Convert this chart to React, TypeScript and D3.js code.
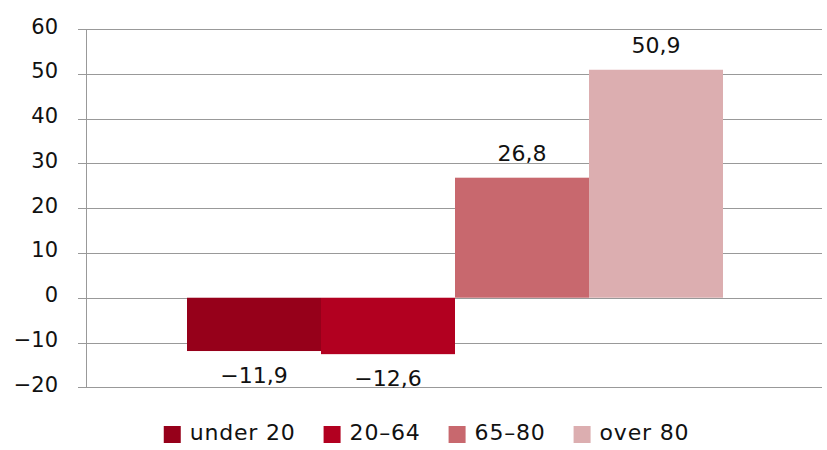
import React, { useRef, useEffect } from 'react';
import * as d3 from 'd3';

// age groups and change (%)
const groups = ['under 20', '20–64', '65–80', 'over 80'];
const values = [-11.9, -12.6, 26.8, 50.9];
const colors = ['#96001A', '#B20020', '#C8686E', '#DCAEB0'];
const yTicks = [-20, -10, 0, 10, 20, 30, 40, 50, 60];

const W = 827;
const H = 450;
const FONT = "'DejaVu Sans', sans-serif";

const fmt = (v: number) => d3.format('.1f')(v).replace('.', ',').replace('-', '−');

export default function App() {
  const svgRef = useRef<SVGSVGElement>(null);

  useEffect(() => {
    const svg = d3.select(svgRef.current);
    svg.selectAll('*').remove();

    const left = 86, right = 822, top = 29, bottom = 387.3;

    const y = d3.scaleLinear().domain([-20, 60]).range([bottom, top]);
    // one category, bars side by side, centered in the plot
    const x = d3.scaleBand<string>()
      .domain(groups)
      .range([left + 101, right - 99])
      .padding(0);

    // gridlines
    svg.append('g')
      .selectAll('line')
      .data(yTicks)
      .join('line')
      .attr('x1', left - 8)
      .attr('x2', right)
      .attr('y1', d => Math.round(y(d)) + 0.5)
      .attr('y2', d => Math.round(y(d)) + 0.5)
      .attr('stroke', '#999')
      .attr('stroke-width', 1);

    // tick labels
    svg.append('g')
      .selectAll('text')
      .data(yTicks)
      .join('text')
      .attr('x', 58)
      .attr('y', d => y(d) + 4.5)
      .attr('text-anchor', 'end')
      .attr('font-family', FONT)
      .attr('font-size', 21)
      .attr('fill', '#111')
      .text(d => String(d).replace('-', '−'));

    // bars
    svg.append('g')
      .selectAll('rect')
      .data(values)
      .join('rect')
      .attr('x', (d, i) => x(groups[i])!)
      .attr('width', x.bandwidth())
      .attr('y', d => y(Math.max(0, d)))
      .attr('height', d => Math.abs(y(d) - y(0)))
      .attr('fill', (d, i) => colors[i]);

    // y axis line
    svg.append('line')
      .attr('x1', left + 0.5)
      .attr('x2', left + 0.5)
      .attr('y1', top)
      .attr('y2', bottom)
      .attr('stroke', '#999');

    // value labels
    svg.append('g')
      .selectAll('text')
      .data(values)
      .join('text')
      .attr('x', (d, i) => x(groups[i])! + x.bandwidth() / 2)
      .attr('y', d => d >= 0 ? y(d) - 17 : y(d) + 32)
      .attr('text-anchor', 'middle')
      .attr('font-family', FONT)
      .attr('font-size', 22)
      .attr('fill', '#111')
      .text(d => fmt(d));

    // legend
    const legend = svg.append('g');
    const items = legend.selectAll('g')
      .data(groups)
      .join('g');
    items.append('rect')
      .attr('width', 17)
      .attr('height', 17)
      .attr('y', 426)
      .attr('fill', (d, i) => colors[i]);
    const texts = items.append('text')
      .attr('x', 26)
      .attr('y', 440)
      .attr('font-family', FONT)
      .attr('font-size', 22)
      .attr('letter-spacing', 0.8)
      .attr('fill', '#111')
      .text(d => d);

    const widths = texts.nodes().map(n => (n as SVGTextElement).getComputedTextLength());
    const gap = 28;
    const itemW = widths.map(w => 26 + w);
    const total = d3.sum(itemW) + gap * (groups.length - 1);
    let cx = 426.5 - total / 2;
    items.each(function (d, i) {
      d3.select(this).attr('transform', `translate(${cx},0)`);
      cx += itemW[i] + gap;
    });
  }, []);

  return (
    <svg
      ref={svgRef}
      width={W}
      height={H}
      style={{ position: 'absolute', left: 0, top: 0, background: '#fff' }}
    />
  );
}
